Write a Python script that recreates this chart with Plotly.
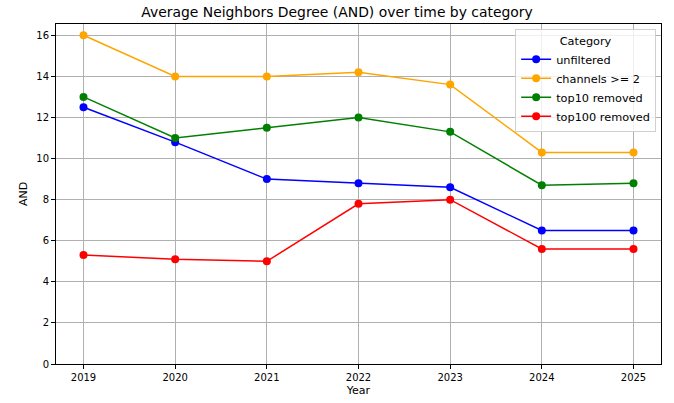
import plotly.graph_objects as go

years = [2019, 2020, 2021, 2022, 2023, 2024, 2025]
unfiltered = [12.5, 10.8, 9.0, 8.8, 8.6, 6.5, 6.5]
channels_ge2 = [16.0, 14.0, 14.0, 14.2, 13.6, 10.3, 10.3]
top10_removed = [13.0, 11.0, 11.5, 12.0, 11.3, 8.7, 8.8]
top100_removed = [5.3, 5.1, 5.0, 7.8, 8.0, 5.6, 5.6]

series = [
    ("unfiltered", unfiltered, "blue"),
    ("channels >= 2", channels_ge2, "orange"),
    ("top10 removed", top10_removed, "green"),
    ("top100 removed", top100_removed, "red"),
]

fig = go.Figure()
for name, vals, col in series:
    fig.add_trace(go.Scatter(x=years, y=vals, name=name, mode="lines+markers",
                             line=dict(color=col, width=1.5),
                             marker=dict(color=col, size=8)))

font = "DejaVu Sans, sans-serif"
axis_common = dict(showline=True, linecolor="black", linewidth=1, mirror=True,
                   showgrid=True, gridcolor="#b0b0b0", gridwidth=1,
                   ticks="outside", ticklen=4, tickcolor="black", automargin=False,
                   tickfont=dict(size=10, color="black", family=font), zeroline=False)

fig.update_layout(
    width=674, height=403,
    margin=dict(l=56, r=13, t=24, b=39, autoexpand=False),
    paper_bgcolor="white", plot_bgcolor="white",
    title=dict(text="Average Neighbors Degree (AND) over time by category",
               x=0.5, xanchor="center", y=1 - 12 / 403, yref="container", yanchor="middle",
               font=dict(size=13.9, color="black", family=font)),
    font=dict(family=font, color="black"),
    legend=dict(title=dict(text="Category", side="top center", font=dict(size=11.3)),
                x=0.992, xanchor="right", y=0.985, yanchor="top",
                bgcolor="rgba(255,255,255,0.8)", bordercolor="#d0d0d0", borderwidth=1,
                font=dict(size=11.3, family=font), tracegroupgap=0),
    showlegend=True,
)
fig.update_xaxes(**axis_common, range=[2018.7, 2025.3], tickvals=years,
                 title=dict(text="Year", font=dict(size=11, family=font), standoff=4))
fig.update_yaxes(**axis_common, range=[0, 16.55], tickvals=[0, 2, 4, 6, 8, 10, 12, 14, 16],
                 title=dict(text="AND", font=dict(size=11, family=font), standoff=6))

fig.write_html("out.html", config={"displayModeBar": False},
               post_script="document.body.style.margin='0';document.body.style.overflow='hidden';")
